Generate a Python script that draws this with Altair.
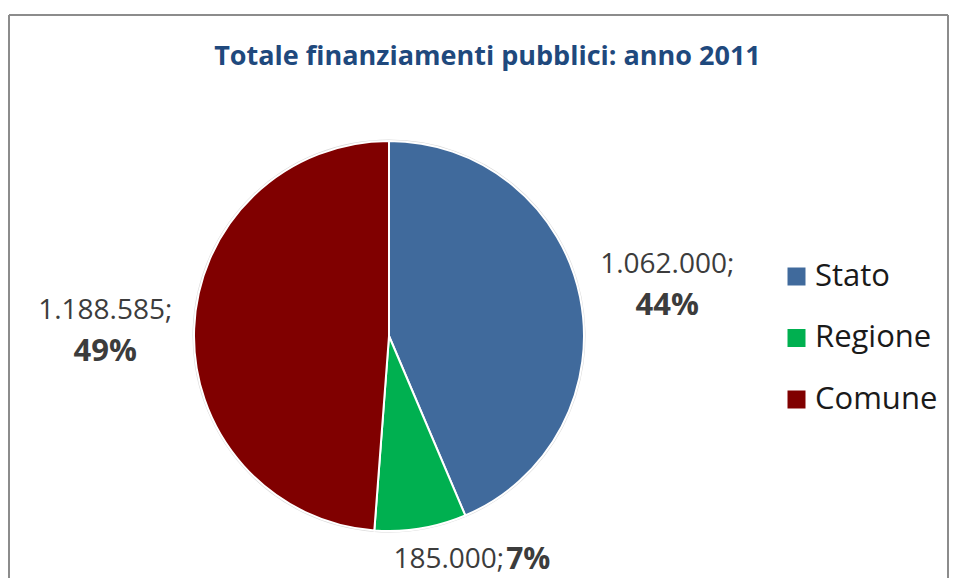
import altair as alt
import pandas as pd

categories = ["Stato", "Regione", "Comune"]
values = [1062000, 185000, 1188585]
value_labels = ["1.062.000;", "185.000;", "1.188.585;"]
pct_labels = ["44%", "7%", "49%"]
colors = ["#406A9C", "#00B050", "#800000"]
title_text = "Totale finanziamenti pubblici: anno 2011"

df = pd.DataFrame({
    "cat": categories,
    "val": values,
    "ord": list(range(len(categories))),
    "lab": value_labels,
    "pct": pct_labels,
})
df["lab_two"] = [l if c != "Regione" else "" for c, l in zip(df["cat"], df["lab"])]
df["pct_two"] = [p if c != "Regione" else "" for c, p in zip(df["cat"], df["pct"])]
df["lab_one"] = [l if c == "Regione" else "" for c, l in zip(df["cat"], df["lab"])]
df["pct_one"] = [p if c == "Regione" else "" for c, p in zip(df["cat"], df["pct"])]

CX, CY, R, LR = 381, 258, 195, 284
FONT = "Open Sans"
LABEL_COLOR = "#3c3c3c"

base = alt.Chart(df).encode(
    theta=alt.Theta("val:Q", stack=True),
    order=alt.Order("ord:Q"),
    x=alt.value(CX),
    y=alt.value(CY),
)

outline = base.mark_arc(radius=R + 1.5, color="#d9d9d9")

pie = base.mark_arc(radius=R, stroke="white", strokeWidth=2).encode(
    color=alt.Color(
        "cat:N",
        scale=alt.Scale(domain=categories, range=colors),
        sort=categories,
        legend=alt.Legend(
            title=None, orient="none", legendX=773, legendY=183,
            symbolType="square", symbolSize=324, symbolStrokeWidth=0,
            symbolOpacity=1,
            labelFont=FONT, labelFontSize=31, labelColor="#1a1a1a",
            labelOffset=3, rowPadding=29.5,
        ),
    )
)

val_two = base.mark_text(radius=LR, dy=-14, font=FONT, fontSize=28,
                         color=LABEL_COLOR).encode(text="lab_two:N")
pct_two = base.mark_text(radius=LR, dy=27, font=FONT, fontSize=31,
                         fontWeight="bold", color=LABEL_COLOR).encode(text="pct_two:N")
val_one = base.mark_text(radius=LR, dx=69, dy=-56, align="right", font=FONT,
                         fontSize=28, color=LABEL_COLOR).encode(text="lab_one:N")
pct_one = base.mark_text(radius=LR, dx=71, dy=-56, align="left", font=FONT,
                         fontSize=30, fontWeight="bold",
                         color=LABEL_COLOR).encode(text="pct_one:N")

one = alt.Chart(pd.DataFrame({"k": [0]}))
BORDER = "#8c8c8c"
top_b = one.mark_rule(color=BORDER, strokeWidth=2).encode(
    x=alt.value(1), x2=alt.value(940), y=alt.value(-63))
left_b = one.mark_rule(color=BORDER, strokeWidth=2).encode(
    x=alt.value(1), y=alt.value(-63), y2=alt.value(510))
right_b = one.mark_rule(color=BORDER, strokeWidth=2).encode(
    x=alt.value(940), y=alt.value(-63), y2=alt.value(510))

chart = alt.layer(outline, pie, val_two, pct_two, val_one, pct_one,
                  top_b, left_b, right_b).properties(
    width=941,
    height=500,
    padding={"left": 0, "top": 70, "right": 0, "bottom": 0},
    autosize=alt.AutoSizeParams(type="none"),
    background="white",
    title=alt.TitleParams(
        title_text, font=FONT, fontSize=27, fontWeight="bold",
        color="#1F497D", anchor="middle", dx=9, baseline="alphabetic",
        offset=12, dy=90,
    ),
).configure_view(strokeWidth=0, stroke="transparent")

chart.save("out.html", embed_options={"renderer": "svg", "actions": False})
